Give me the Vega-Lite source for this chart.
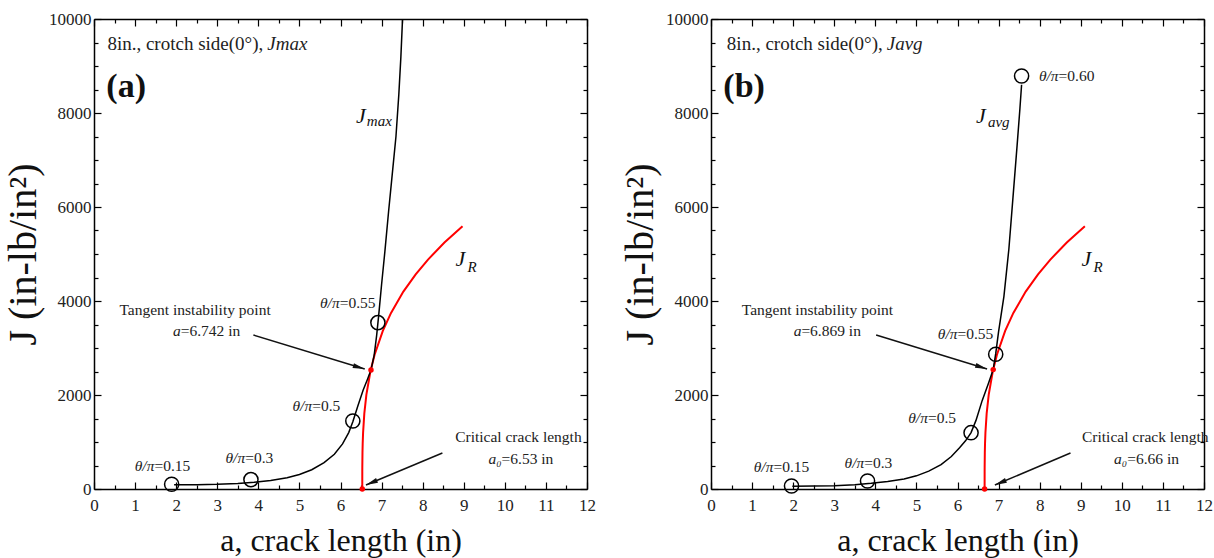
{
  "$schema": "https://vega.github.io/schema/vega-lite/v6.json",
  "background": "white",
  "padding": {"left": 3, "top": 10, "right": 0, "bottom": 5},
  "config": {
    "view": {"stroke": null},
    "font": "Liberation Serif",
    "style": {"guide-label": {"font": "Liberation Serif"}, "guide-title": {"font": "Liberation Serif"}},
    "axis": {"grid": false, "domainColor": "black", "domainWidth": 1.5, "tickColor": "black", "tickWidth": 1.2,
      "labelFont": "Liberation Serif", "labelFontSize": 17, "labelColor": "#222",
      "titleFont": "Liberation Serif", "titleFontWeight": "normal", "titleColor": "#111"},
    "text": {"font": "Liberation Serif", "color": "#222"}
  },
  "spacing": 124,
  "bounds": "flush",
  "hconcat": [
    {
      "width": 493, "height": 470,
      "encoding": {
        "x": {"field": "a", "type": "quantitative", "scale": {"domain": [0, 12]}, "axis": null},
        "y": {"field": "J", "type": "quantitative", "scale": {"domain": [0, 10000]}, "axis": null}
      },
      "resolve": {"axis": {"x": "independent", "y": "independent"}},
      "layer": [
        {"data": {"name": "jrA"}, "mark": {"type": "line", "color": "#ff0000", "strokeWidth": 2},
          "encoding": {
            "x": {"field": "a", "type": "quantitative", "scale": {"domain": [0, 12]}, "title": "a, crack length (in)",
              "axis": {"orient": "bottom", "values": [0,0.5,1,1.5,2,2.5,3,3.5,4,4.5,5,5.5,6,6.5,7,7.5,8,8.5,9,9.5,10,10.5,11,11.5,12],
                "labelExpr": "datum.value % 1 === 0 ? format(datum.value, 'd') : ''",
                "tickSize": {"condition": {"test": "datum.value % 1 === 0", "value": -7}, "value": -4},
                "labelFont": "Liberation Serif", "titleFont": "Liberation Serif",
                "labelPadding": 15, "labelFontSize": 17, "titleFontSize": 32, "titlePadding": 12, "labelFlush": false}},
            "y": {"field": "J", "type": "quantitative", "scale": {"domain": [0, 10000]}, "title": "J (in-lb/in²)",
              "axis": {"orient": "left", "values": [0,500,1000,1500,2000,2500,3000,3500,4000,4500,5000,5500,6000,6500,7000,7500,8000,8500,9000,9500,10000],
                "labelExpr": "datum.value % 2000 === 0 ? format(datum.value, 'd') : ''",
                "tickSize": {"condition": {"test": "datum.value % 2000 === 0", "value": -7}, "value": -4},
                "labelFont": "Liberation Serif", "titleFont": "Liberation Serif",
                "labelPadding": 10, "titleFontSize": 40, "titlePadding": 5, "labelFontSize": 17, "labelFlush": false}}
          }},
        {"data": {"name": "jmaxA"}, "mark": {"type": "line", "color": "black", "strokeWidth": 1.5},
          "encoding": {
            "x": {"field": "a", "type": "quantitative", "scale": {"domain": [0, 12]},
              "axis": {"orient": "top", "values": [0,0.5,1,1.5,2,2.5,3,3.5,4,4.5,5,5.5,6,6.5,7,7.5,8,8.5,9,9.5,10,10.5,11,11.5,12],
                "labels": false, "title": null,
                "tickSize": {"condition": {"test": "datum.value % 1 === 0", "value": -7}, "value": -4}}},
            "y": {"field": "J", "type": "quantitative", "scale": {"domain": [0, 10000]},
              "axis": {"orient": "right", "values": [0,500,1000,1500,2000,2500,3000,3500,4000,4500,5000,5500,6000,6500,7000,7500,8000,8500,9000,9500,10000],
                "labels": false, "title": null,
                "tickSize": {"condition": {"test": "datum.value % 2000 === 0", "value": -7}, "value": -4}}}
          }},
        {"data": {"name": "circA"}, "mark": {"type": "point", "shape": "circle", "size": 200, "filled": false, "stroke": "black", "strokeWidth": 1.5, "opacity": 1}},
        {"data": {"name": "dotA"}, "mark": {"type": "point", "shape": "circle", "size": 30, "filled": true, "color": "#ff0000", "opacity": 1}},
        {"data": {"name": "arrA"}, "mark": {"type": "rule", "color": "#111", "strokeWidth": 1.5},
          "encoding": {"x2": {"field": "a2"}, "y2": {"field": "J2"}}},
        {"data": {"name": "arrA"}, "transform": [{"filter": "datum.id === 't'"}],
          "mark": {"type": "point", "shape": "M0,0 L-1.2,-0.25 L-1.2,0.25 Z", "size": 400, "filled": true, "color": "#111", "opacity": 1, "angle": 16.9},
          "encoding": {"x": {"field": "a2", "type": "quantitative", "axis": null}, "y": {"field": "J2", "type": "quantitative", "axis": null}}},
        {"data": {"name": "arrA"}, "transform": [{"filter": "datum.id === 'c'"}],
          "mark": {"type": "point", "shape": "M0,0 L-1.2,-0.25 L-1.2,0.25 Z", "size": 400, "filled": true, "color": "#111", "opacity": 1, "angle": 157.4},
          "encoding": {"x": {"field": "a2", "type": "quantitative", "axis": null}, "y": {"field": "J2", "type": "quantitative", "axis": null}}},
        {"data": {"name": "plainA"}, "mark": {"type": "text", "fontSize": 15.5, "align": "center", "baseline": "middle"},
          "encoding": {"text": {"field": "label"}}},
        {"data": {"name": "joinA"}, "mark": {"type": "text", "fontSize": 15.5, "fontStyle": "italic", "align": "right", "baseline": "middle"},
          "encoding": {"text": {"field": "left"}}},
        {"data": {"name": "joinA"}, "mark": {"type": "text", "fontSize": 15.5, "align": "left", "baseline": "middle"},
          "encoding": {"text": {"field": "right"}}},
        {"data": {"name": "titleA"}, "mark": {"type": "text", "fontSize": 19, "align": "right", "baseline": "middle"},
          "encoding": {"text": {"field": "plain"}}},
        {"data": {"name": "titleA"}, "mark": {"type": "text", "fontSize": 19, "fontStyle": "italic", "align": "left", "baseline": "middle", "dx": 4},
          "encoding": {"text": {"field": "ital"}}},
        {"data": {"name": "tagA"}, "mark": {"type": "text", "fontSize": 34, "fontWeight": "bold", "color": "#111", "align": "left", "baseline": "middle"},
          "encoding": {"text": {"field": "label"}}},
        {"data": {"name": "bigJA"}, "mark": {"type": "text", "fontSize": 22, "fontStyle": "italic", "color": "#111", "align": "left", "baseline": "middle"},
          "encoding": {"text": {"field": "label"}}},
        {"data": {"name": "subA"}, "mark": {"type": "text", "fontSize": 15, "fontStyle": "italic", "color": "#111", "align": "left", "baseline": "middle"},
          "encoding": {"text": {"field": "label"}}}
      ]
    },
    {
      "width": 493, "height": 470,
      "encoding": {
        "x": {"field": "a", "type": "quantitative", "scale": {"domain": [0, 12]}, "axis": null},
        "y": {"field": "J", "type": "quantitative", "scale": {"domain": [0, 10000]}, "axis": null}
      },
      "resolve": {"axis": {"x": "independent", "y": "independent"}},
      "layer": [
        {"data": {"name": "jrB"}, "mark": {"type": "line", "color": "#ff0000", "strokeWidth": 2},
          "encoding": {
            "x": {"field": "a", "type": "quantitative", "scale": {"domain": [0, 12]}, "title": "a, crack length (in)",
              "axis": {"orient": "bottom", "values": [0,0.5,1,1.5,2,2.5,3,3.5,4,4.5,5,5.5,6,6.5,7,7.5,8,8.5,9,9.5,10,10.5,11,11.5,12],
                "labelExpr": "datum.value % 1 === 0 ? format(datum.value, 'd') : ''",
                "tickSize": {"condition": {"test": "datum.value % 1 === 0", "value": -7}, "value": -4},
                "labelFont": "Liberation Serif", "titleFont": "Liberation Serif",
                "labelPadding": 15, "labelFontSize": 17, "titleFontSize": 32, "titlePadding": 12, "labelFlush": false}},
            "y": {"field": "J", "type": "quantitative", "scale": {"domain": [0, 10000]}, "title": "J (in-lb/in²)",
              "axis": {"orient": "left", "values": [0,500,1000,1500,2000,2500,3000,3500,4000,4500,5000,5500,6000,6500,7000,7500,8000,8500,9000,9500,10000],
                "labelExpr": "datum.value % 2000 === 0 ? format(datum.value, 'd') : ''",
                "tickSize": {"condition": {"test": "datum.value % 2000 === 0", "value": -7}, "value": -4},
                "labelFont": "Liberation Serif", "titleFont": "Liberation Serif",
                "labelPadding": 10, "titleFontSize": 40, "titlePadding": 5, "labelFontSize": 17, "labelFlush": false}}
          }},
        {"data": {"name": "javgB"}, "mark": {"type": "line", "color": "black", "strokeWidth": 1.5},
          "encoding": {
            "x": {"field": "a", "type": "quantitative", "scale": {"domain": [0, 12]},
              "axis": {"orient": "top", "values": [0,0.5,1,1.5,2,2.5,3,3.5,4,4.5,5,5.5,6,6.5,7,7.5,8,8.5,9,9.5,10,10.5,11,11.5,12],
                "labels": false, "title": null,
                "tickSize": {"condition": {"test": "datum.value % 1 === 0", "value": -7}, "value": -4}}},
            "y": {"field": "J", "type": "quantitative", "scale": {"domain": [0, 10000]},
              "axis": {"orient": "right", "values": [0,500,1000,1500,2000,2500,3000,3500,4000,4500,5000,5500,6000,6500,7000,7500,8000,8500,9000,9500,10000],
                "labels": false, "title": null,
                "tickSize": {"condition": {"test": "datum.value % 2000 === 0", "value": -7}, "value": -4}}}
          }},
        {"data": {"name": "circB"}, "mark": {"type": "point", "shape": "circle", "size": 200, "filled": false, "stroke": "black", "strokeWidth": 1.5, "opacity": 1}},
        {"data": {"name": "dotB"}, "mark": {"type": "point", "shape": "circle", "size": 30, "filled": true, "color": "#ff0000", "opacity": 1}},
        {"data": {"name": "arrB"}, "mark": {"type": "rule", "color": "#111", "strokeWidth": 1.5},
          "encoding": {"x2": {"field": "a2"}, "y2": {"field": "J2"}}},
        {"data": {"name": "arrB"}, "transform": [{"filter": "datum.id === 't'"}],
          "mark": {"type": "point", "shape": "M0,0 L-1.2,-0.25 L-1.2,0.25 Z", "size": 400, "filled": true, "color": "#111", "opacity": 1, "angle": 17.6},
          "encoding": {"x": {"field": "a2", "type": "quantitative", "axis": null}, "y": {"field": "J2", "type": "quantitative", "axis": null}}},
        {"data": {"name": "arrB"}, "transform": [{"filter": "datum.id === 'c'"}],
          "mark": {"type": "point", "shape": "M0,0 L-1.2,-0.25 L-1.2,0.25 Z", "size": 400, "filled": true, "color": "#111", "opacity": 1, "angle": 157.2},
          "encoding": {"x": {"field": "a2", "type": "quantitative", "axis": null}, "y": {"field": "J2", "type": "quantitative", "axis": null}}},
        {"data": {"name": "plainB"}, "mark": {"type": "text", "fontSize": 15.5, "align": "center", "baseline": "middle"},
          "encoding": {"text": {"field": "label"}}},
        {"data": {"name": "joinB"}, "mark": {"type": "text", "fontSize": 15.5, "fontStyle": "italic", "align": "right", "baseline": "middle"},
          "encoding": {"text": {"field": "left"}}},
        {"data": {"name": "joinB"}, "mark": {"type": "text", "fontSize": 15.5, "align": "left", "baseline": "middle"},
          "encoding": {"text": {"field": "right"}}},
        {"data": {"name": "titleB"}, "mark": {"type": "text", "fontSize": 19, "align": "right", "baseline": "middle"},
          "encoding": {"text": {"field": "plain"}}},
        {"data": {"name": "titleB"}, "mark": {"type": "text", "fontSize": 19, "fontStyle": "italic", "align": "left", "baseline": "middle", "dx": 4},
          "encoding": {"text": {"field": "ital"}}},
        {"data": {"name": "tagB"}, "mark": {"type": "text", "fontSize": 34, "fontWeight": "bold", "color": "#111", "align": "left", "baseline": "middle"},
          "encoding": {"text": {"field": "label"}}},
        {"data": {"name": "bigJB"}, "mark": {"type": "text", "fontSize": 22, "fontStyle": "italic", "color": "#111", "align": "left", "baseline": "middle"},
          "encoding": {"text": {"field": "label"}}},
        {"data": {"name": "subB"}, "mark": {"type": "text", "fontSize": 15, "fontStyle": "italic", "color": "#111", "align": "left", "baseline": "middle"},
          "encoding": {"text": {"field": "label"}}}
      ]
    }
  ],
  "datasets": {
    "jmaxA": [
      {"a": 1.95, "J": 90}, {"a": 2.5, "J": 92}, {"a": 3.0, "J": 100}, {"a": 3.5, "J": 118}, {"a": 3.9, "J": 145},
      {"a": 4.3, "J": 180}, {"a": 4.7, "J": 240}, {"a": 5.0, "J": 310}, {"a": 5.3, "J": 410}, {"a": 5.6, "J": 560},
      {"a": 5.85, "J": 740}, {"a": 6.05, "J": 960}, {"a": 6.2, "J": 1200}, {"a": 6.3, "J": 1430}, {"a": 6.42, "J": 1760},
      {"a": 6.55, "J": 2100}, {"a": 6.65, "J": 2320}, {"a": 6.742, "J": 2530}, {"a": 6.82, "J": 2850}, {"a": 6.88, "J": 3270},
      {"a": 6.93, "J": 3700}, {"a": 7.0, "J": 4350}, {"a": 7.08, "J": 5050}, {"a": 7.17, "J": 5900}, {"a": 7.26, "J": 6700},
      {"a": 7.35, "J": 7500}, {"a": 7.42, "J": 8400}, {"a": 7.47, "J": 9200}, {"a": 7.51, "J": 10000}
    ],
    "jrA": [
      {"a": 6.53, "J": 0}, {"a": 6.5305, "J": 369}, {"a": 6.531, "J": 461}, {"a": 6.535, "J": 771}, {"a": 6.54, "J": 962},
      {"a": 6.55, "J": 1201}, {"a": 6.58, "J": 1610}, {"a": 6.63, "J": 2010}, {"a": 6.73, "J": 2510}, {"a": 6.83, "J": 2857},
      {"a": 7.03, "J": 3364}, {"a": 7.23, "J": 3746}, {"a": 7.53, "J": 4200}, {"a": 7.83, "J": 4568}, {"a": 8.13, "J": 4882},
      {"a": 8.53, "J": 5243}, {"a": 8.97, "J": 5588}
    ],
    "circA": [{"a": 1.89, "J": 100}, {"a": 3.82, "J": 200}, {"a": 6.30, "J": 1447}, {"a": 6.91, "J": 3540}],
    "dotA": [{"a": 6.742, "J": 2530}, {"a": 6.53, "J": 0}],
    "arrA": [{"id": "t", "a": 3.88, "J": 3277, "a2": 6.59, "J2": 2553}, {"id": "c", "a": 8.48, "J": 766, "a2": 6.62, "J2": 85}],
    "plainA": [{"a": 2.46, "J": 3808, "label": "Tangent instability point"}, {"a": 10.33, "J": 1106, "label": "Critical crack length"}],
    "joinA": [
      {"a": 1.47, "J": 490, "left": "θ/π", "right": "=0.15"}, {"a": 3.68, "J": 660, "left": "θ/π", "right": "=0.3"},
      {"a": 5.31, "J": 1766, "left": "θ/π", "right": "=0.5"}, {"a": 5.98, "J": 3964, "left": "θ/π", "right": "=0.55"},
      {"a": 2.11, "J": 3360, "left": "a", "right": "=6.742 in"}, {"a": 9.92, "J": 638, "left": "a₀", "right": "=6.53 in"}
    ],
    "titleA": [{"a": 4.12, "J": 9468, "plain": "8in., crotch side(0°),", "ital": "Jmax"}],
    "tagA": [{"a": 0.3, "J": 8553, "label": "(a)"}],
    "bigJA": [{"a": 6.38, "J": 7936, "label": "J"}, {"a": 8.8, "J": 4894, "label": "J"}],
    "subA": [{"a": 6.64, "J": 7830, "label": "max"}, {"a": 9.09, "J": 4723, "label": "R"}],
    "javgB": [
      {"a": 1.98, "J": 60}, {"a": 2.5, "J": 62}, {"a": 3.0, "J": 70}, {"a": 3.5, "J": 90}, {"a": 3.9, "J": 120},
      {"a": 4.3, "J": 160}, {"a": 4.7, "J": 215}, {"a": 5.0, "J": 280}, {"a": 5.3, "J": 380}, {"a": 5.6, "J": 520},
      {"a": 5.85, "J": 690}, {"a": 6.05, "J": 880}, {"a": 6.2, "J": 1030}, {"a": 6.33, "J": 1200}, {"a": 6.45, "J": 1460},
      {"a": 6.6, "J": 1880}, {"a": 6.75, "J": 2240}, {"a": 6.869, "J": 2540}, {"a": 6.93, "J": 2880}, {"a": 7.0, "J": 3350},
      {"a": 7.13, "J": 4100}, {"a": 7.25, "J": 5100}, {"a": 7.35, "J": 6200}, {"a": 7.45, "J": 7300}, {"a": 7.52, "J": 8100},
      {"a": 7.56, "J": 8600}
    ],
    "jrB": [
      {"a": 6.66, "J": 0}, {"a": 6.6605, "J": 369}, {"a": 6.661, "J": 461}, {"a": 6.665, "J": 771}, {"a": 6.67, "J": 962},
      {"a": 6.68, "J": 1201}, {"a": 6.71, "J": 1610}, {"a": 6.76, "J": 2010}, {"a": 6.86, "J": 2510}, {"a": 6.96, "J": 2857},
      {"a": 7.16, "J": 3364}, {"a": 7.36, "J": 3746}, {"a": 7.66, "J": 4200}, {"a": 7.96, "J": 4568}, {"a": 8.26, "J": 4882},
      {"a": 8.66, "J": 5243}, {"a": 9.1, "J": 5588}
    ],
    "circB": [{"a": 1.96, "J": 64}, {"a": 3.81, "J": 170}, {"a": 6.33, "J": 1198}, {"a": 6.93, "J": 2866}, {"a": 7.56, "J": 8787}],
    "dotB": [{"a": 6.869, "J": 2540}, {"a": 6.66, "J": 0}],
    "arrB": [{"id": "t", "a": 4.02, "J": 3277, "a2": 6.72, "J2": 2553}, {"id": "c", "a": 8.75, "J": 766, "a2": 6.91, "J2": 85}],
    "plainB": [{"a": 2.59, "J": 3808, "label": "Tangent instability point"}, {"a": 10.57, "J": 1106, "label": "Critical crack length"}],
    "joinB": [
      {"a": 1.52, "J": 468, "left": "θ/π", "right": "=0.15"}, {"a": 3.73, "J": 547, "left": "θ/π", "right": "=0.3"},
      {"a": 5.28, "J": 1517, "left": "θ/π", "right": "=0.5"}, {"a": 6.0, "J": 3291, "left": "θ/π", "right": "=0.55"},
      {"a": 8.46, "J": 8787, "left": "θ/π", "right": "=0.60"},
      {"a": 2.2, "J": 3360, "left": "a", "right": "=6.869 in"}, {"a": 10.13, "J": 638, "left": "a₀", "right": "=6.66 in"}
    ],
    "titleB": [{"a": 4.18, "J": 9468, "plain": "8in., crotch side(0°),", "ital": "Javg"}],
    "tagB": [{"a": 0.3, "J": 8553, "label": "(b)"}],
    "bigJB": [{"a": 6.45, "J": 7936, "label": "J"}, {"a": 9.02, "J": 4894, "label": "J"}],
    "subB": [{"a": 6.74, "J": 7800, "label": "avg"}, {"a": 9.31, "J": 4723, "label": "R"}]
  }
}
